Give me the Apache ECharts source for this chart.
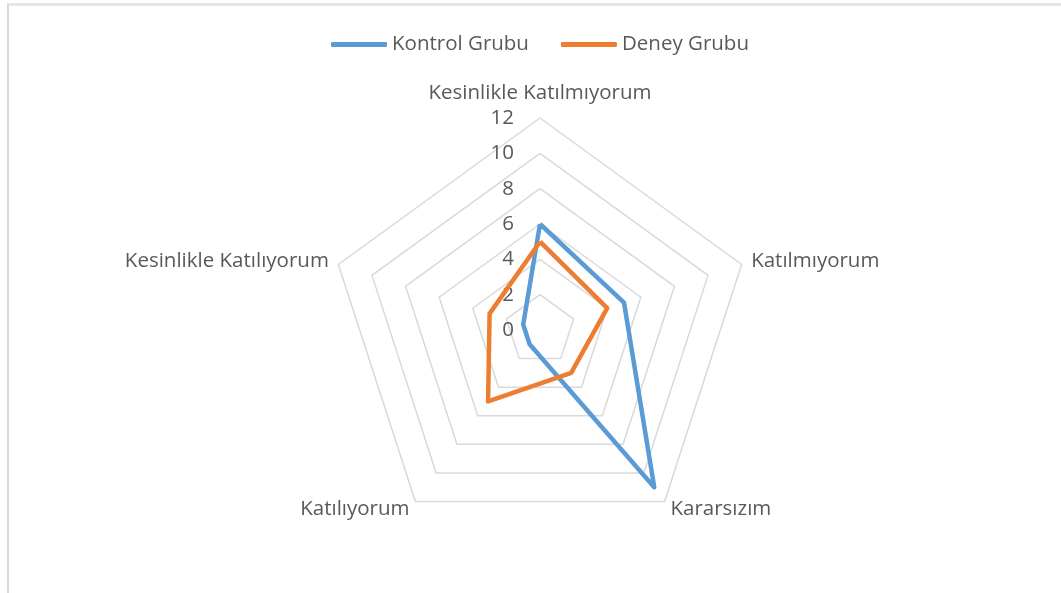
<!DOCTYPE html>
<html>
<head>
<meta charset="utf-8">
<script src="https://cdn.jsdelivr.net/npm/echarts@6/dist/echarts.min.js"></script>
<style>
  html, body { margin: 0; padding: 0; background: #fff; }
  #frame { position: absolute; left: 7px; top: 3px; right: 0; bottom: 0;
           border-left: 2px solid #d9d9d9; border-top: 3px solid #e6e6e6; }
  #chart { position: absolute; left: 0; top: 0; width: 1061px; height: 593px; }
</style>
</head>
<body>
<div id="frame"></div>
<div id="chart"></div>
<script>
// categories (radar axes), clockwise from top
const categories = ['Kesinlikle Katılmıyorum', 'Katılmıyorum', 'Kararsızım', 'Katılıyorum', 'Kesinlikle Katılıyorum']
const kontrolGrubu = [6, 5, 11, 1, 1]
const deneyGrubu = [5, 4, 3, 5, 3]
const axisMax = 12

// echarts lays radar axes out counter-clockwise, so keep the first one on top
// and reverse the rest to get the clockwise order of the original
const order = [0, 4, 3, 2, 1]
const pick = arr => order.map(i => arr[i])

const chart = echarts.init(document.getElementById('chart'))

const indicator = pick(categories).map((name, i) => {
  const ind = { name: name, min: 0, max: axisMax }
  if (i === 0) {
    // only the top axis carries the 0..12 labels
    ind.axisLabel = { show: true }
    ind.nameTextStyle = { padding: [0, 0, 4, 0] }
  }
  return ind
})

const font = 'Open Sans'

chart.setOption({
  backgroundColor: 'transparent',
  animation: false,
  legend: {
    top: 29,
    left: 326,
    itemWidth: 56,
    itemHeight: 5,
    itemGap: 32,
    icon: 'roundRect',
    textStyle: { fontFamily: font, fontSize: 20.5, color: '#595959' },
    data: ['Kontrol Grubu', 'Deney Grubu']
  },
  radar: {
    center: [540, 330],
    radius: 212,
    startAngle: 90,
    splitNumber: 6,
    shape: 'polygon',
    indicator: indicator,
    axisName: {
      color: '#595959',
      fontFamily: font,
      fontSize: 20.5
    },
    nameGap: 10,
    axisLine: { show: false },
    axisTick: { show: false },
    axisLabel: {
      show: false,
      color: '#595959',
      fontFamily: font,
      fontSize: 20.5,
      margin: 26
    },
    splitLine: { lineStyle: { color: '#d9d9d9', width: 1.5 } },
    splitArea: { show: false }
  },
  series: [{
    type: 'radar',
    symbol: 'none',
    data: [
      {
        name: 'Kontrol Grubu',
        value: pick(kontrolGrubu),
        lineStyle: { color: '#5b9bd5', width: 4.5, join: 'round' },
        itemStyle: { color: '#5b9bd5' }
      },
      {
        name: 'Deney Grubu',
        value: pick(deneyGrubu),
        lineStyle: { color: '#ed7d31', width: 4.5, join: 'round' },
        itemStyle: { color: '#ed7d31' }
      }
    ]
  }]
})
</script>
</body>
</html>
